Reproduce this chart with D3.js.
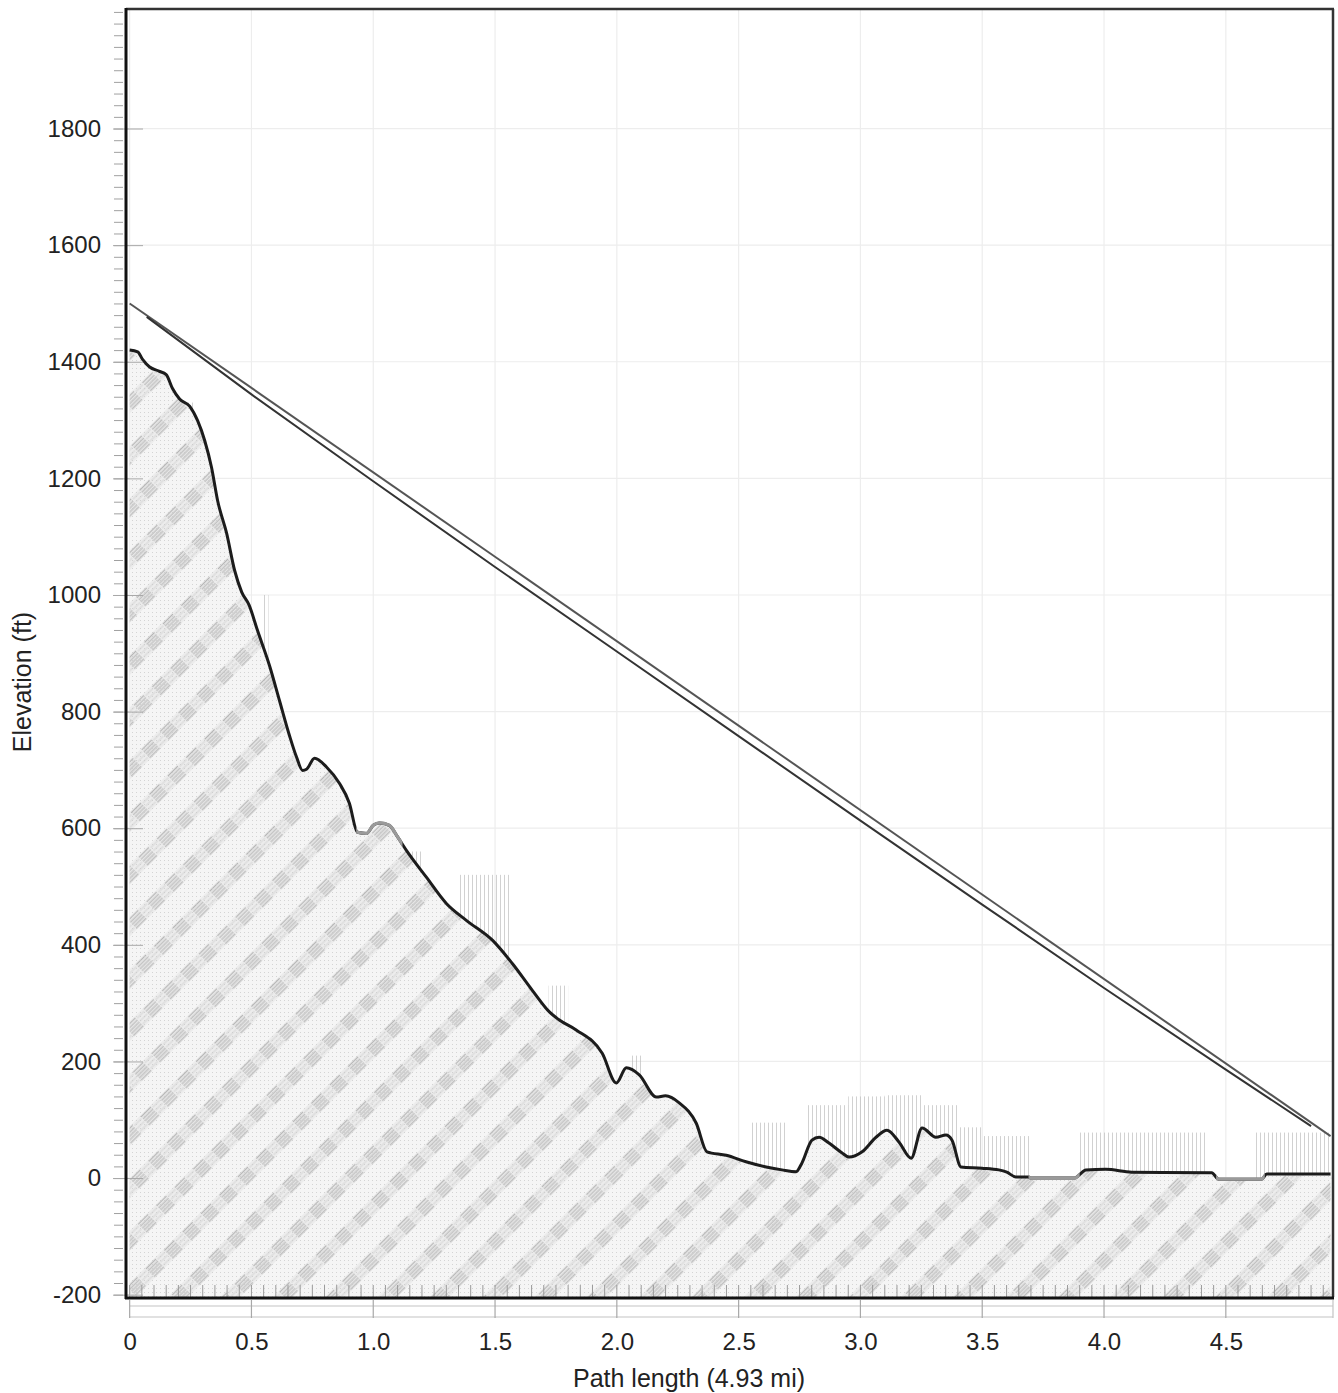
<!DOCTYPE html>
<html><head><meta charset="utf-8">
<script src="https://cdn.jsdelivr.net/npm/d3@7"></script>
<style>
html,body{margin:0;padding:0;background:#fff;}
text{font-family:"Liberation Sans",Arial,sans-serif;fill:#222;}
</style></head>
<body>
<svg id="chart" width="1338" height="1393"></svg>
<script>
// ---------- data ----------
const yTickValues = [-200,0,200,400,600,800,1000,1200,1400,1600,1800];
const yTickLabels = ["-200","0","200","400","600","800","1000","1200","1400","1600","1800"];
const xTickValues = [0,0.5,1.0,1.5,2.0,2.5,3.0,3.5,4.0,4.5];
const xTickLabels = ["0","0.5","1.0","1.5","2.0","2.5","3.0","3.5","4.0","4.5"];
const xTitle = "Path length (4.93 mi)";
const yTitle = "Elevation (ft)";

// terrain profile: [distance mi, elevation ft]
const terrain = [
 [0,1420],[0.033,1417],[0.053,1404],[0.082,1391],[0.12,1384],[0.15,1378],[0.176,1354],
 [0.205,1336],[0.246,1324],[0.279,1299],[0.308,1265],[0.336,1219],[0.361,1162],[0.398,1106],
 [0.431,1042],[0.46,1005],[0.49,983],[0.525,939],[0.574,879],[0.615,819],[0.656,759],
 [0.685,722],[0.71,699],[0.726,701],[0.759,720],[0.808,705],[0.861,677],[0.902,643],
 [0.935,593],[0.972,591],[1.0,605],[1.025,609],[1.066,605],[1.1,585],[1.136,562],
 [1.218,516],[1.3,471],[1.382,442],[1.489,408],[1.571,368],[1.653,322],[1.723,285],
 [1.764,271],[1.833,254],[1.94,214],[1.998,163],[2.039,189],[2.092,177],[2.162,139],
 [2.2,141],[2.256,129],[2.326,94],[2.37,45],[2.449,39],[2.53,28],[2.613,19],[2.678,14],
 [2.736,11],[2.76,26],[2.801,65],[2.83,70],[2.871,60],[2.925,43],[2.953,36],[3.007,45],
 [3.064,70],[3.109,82],[3.158,62],[3.208,34],[3.253,86],[3.31,70],[3.351,74],[3.376,65],
 [3.413,19],[3.499,17],[3.568,14],[3.601,10],[3.638,2],[3.69,2],[3.7,0],[3.88,0],
 [3.897,5],[3.925,14],[4.007,15],[4.114,10],[4.442,9],[4.471,-2],[4.647,-2],[4.668,7],[4.93,7]
];
// distance ranges where the profile line is drawn in grey
const greyRanges = [[0.93,1.12],[3.69,3.9],[4.46,4.66]];

// clutter bands: [start mi, end mi, top ft]
const clutter = [
 [0.24,0.27,1330],[0.55,0.57,1000],[1.12,1.2,560],[1.35,1.56,520],[1.72,1.8,330],
 [2.05,2.1,210],[2.55,2.7,95],[2.78,2.95,125],[2.95,3.1,140],[3.1,3.25,142],
 [3.25,3.4,125],[3.4,3.5,87],[3.5,3.7,72],[3.9,4.42,78],[4.62,4.93,78]
];

// line of sight and lower Fresnel line
const lineOfSight = [[0,1500],[4.93,72]];
const fresnelLine = [
 [0.07,1477],[0.5,1344],[1.0,1195],[1.5,1048],[2.0,903],[2.5,758],
 [3.0,613],[3.5,469],[4.0,326],[4.5,186],[4.85,89]
];

// ---------- layout ----------
const svg = d3.select("#chart");
const L = 126, R = 1333, T = 9, B = 1297;
const x = d3.scaleLinear().domain([-0.015,4.94]).range([L,R]);
const y = d3.scaleLinear().domain([-204,2005]).range([B,T]);

svg.append("rect").attr("width",1338).attr("height",1393).attr("fill","#fff");

const defs = svg.append("defs");
// terrain hatch pattern: diagonal "/" bands of hatched blocks
const p = defs.append("pattern").attr("id","hatch").attr("patternUnits","userSpaceOnUse")
  .attr("width",37).attr("height",26).attr("patternTransform","rotate(45)");
p.append("rect").attr("width",37).attr("height",26).attr("fill","#f5f5f5");
p.append("rect").attr("x",0).attr("y",0).attr("width",14).attr("height",14).attr("fill","#e6e6e6");
for (let i=0;i<5;i++){
  p.append("line").attr("x1",1.5+i*2.8).attr("x2",1.5+i*2.8).attr("y1",0).attr("y2",14)
   .attr("stroke","#b2b2b2").attr("stroke-width",0.9);
}
p.append("rect").attr("x",0).attr("y",14).attr("width",14).attr("height",12).attr("fill","#ececec");
for (let i=0;i<3;i++){
  p.append("line").attr("x1",3+i*4).attr("x2",3+i*4).attr("y1",15).attr("y2",25)
   .attr("stroke","#cfcfcf").attr("stroke-width",0.8);
}
// dotted grid overlay
const dp = defs.append("pattern").attr("id","dots").attr("patternUnits","userSpaceOnUse")
  .attr("width",4).attr("height",4);
dp.append("rect").attr("width",1).attr("height",1).attr("fill","#c6c6c6");
// clutter vertical lines
const cp = defs.append("pattern").attr("id","clut").attr("patternUnits","userSpaceOnUse")
  .attr("width",4).attr("height",4);
cp.append("rect").attr("width",1).attr("height",4).attr("fill","#bdbdbd");

defs.append("clipPath").attr("id","plotclip").append("rect")
  .attr("x",L).attr("y",T).attr("width",R-L).attr("height",B-T);
const gc = defs.append("clipPath").attr("id","greyclip");
greyRanges.forEach(r=>gc.append("rect").attr("x",x(r[0])).attr("y",T)
  .attr("width",x(r[1])-x(r[0])).attr("height",B-T));

// gridlines
const grid = svg.append("g").attr("stroke","#ededed").attr("stroke-width",1.2);
yTickValues.forEach(v=>grid.append("line").attr("x1",L).attr("x2",R).attr("y1",y(v)).attr("y2",y(v)));
xTickValues.forEach(v=>grid.append("line").attr("x1",x(v)).attr("x2",x(v)).attr("y1",T).attr("y2",B));

const plot = svg.append("g").attr("clip-path","url(#plotclip)");

// clutter
plot.selectAll("rect.clut").data(clutter).join("rect").attr("class","clut")
  .attr("x",d=>x(d[0])).attr("width",d=>x(d[1])-x(d[0]))
  .attr("y",d=>y(d[2])).attr("height",d=>y(-204)-y(d[2]))
  .attr("fill","url(#clut)").attr("opacity",0.7);

// terrain area
const area = d3.area().x(d=>x(d[0])).y0(y(-204)).y1(d=>y(d[1])).curve(d3.curveMonotoneX);
plot.append("path").datum(terrain).attr("d",area).attr("fill","url(#hatch)");
plot.append("path").datum(terrain).attr("d",area).attr("fill","url(#dots)").attr("opacity",0.7);

// minor x ticks inside bottom
const minorX = d3.range(0,4.93,0.05);
plot.append("g").selectAll("line").data(minorX).join("line")
  .attr("x1",d=>x(d)).attr("x2",d=>x(d)).attr("y1",B-12).attr("y2",B)
  .attr("stroke","#9a9a9a").attr("stroke-width",1);

// terrain line
const line = d3.line().x(d=>x(d[0])).y(d=>y(d[1])).curve(d3.curveMonotoneX);
plot.append("path").datum(terrain).attr("d",line).attr("fill","none")
  .attr("stroke","#1c1c1c").attr("stroke-width",3).attr("stroke-linejoin","round");
plot.append("path").datum(terrain).attr("d",line).attr("fill","none")
  .attr("clip-path","url(#greyclip)")
  .attr("stroke","#9a9a9a").attr("stroke-width",3.2);

// line of sight and Fresnel line
const sl = d3.line().x(d=>x(d[0])).y(d=>y(d[1]));
plot.append("path").datum(lineOfSight).attr("d",sl).attr("fill","none")
  .attr("stroke","#555").attr("stroke-width",2);
plot.append("path").datum(fresnelLine).attr("d",sl).attr("fill","none")
  .attr("stroke","#333").attr("stroke-width",2);

// frame
svg.append("line").attr("x1",L).attr("x2",R+1).attr("y1",T).attr("y2",T).attr("stroke","#333").attr("stroke-width",2.5);
svg.append("line").attr("x1",R).attr("x2",R).attr("y1",T).attr("y2",B).attr("stroke","#333").attr("stroke-width",2.5);

// y axis: minor ticks, major ticks, labels
const yMinor = d3.axisLeft(y).tickValues(d3.range(-200,2001,20)).tickSize(9).tickFormat("");
const gMin = svg.append("g").attr("transform",`translate(${L-3},0)`).call(yMinor);
gMin.select(".domain").remove();
gMin.selectAll("line").attr("stroke","#a0a0a0");
const yMajor = d3.axisLeft(y).tickValues(yTickValues).tickSize(30).tickFormat("");
const gMaj = svg.append("g").attr("transform",`translate(${L+17},0)`).call(yMajor);
gMaj.select(".domain").remove();
gMaj.selectAll("line").attr("stroke","#a8a8a8");
const yLab = d3.axisLeft(y).tickValues(yTickValues).tickSize(0).tickPadding(25)
  .tickFormat((d,i)=>yTickLabels[i]);
const gLab = svg.append("g").attr("transform",`translate(${L},0)`).call(yLab);
gLab.select(".domain").remove();
gLab.selectAll("text").attr("font-size",24).attr("font-family","Liberation Sans, Arial").attr("fill","#222");

// secondary strip under plot
const strip = svg.append("g").attr("stroke","#c4c4c4").attr("stroke-width",1.2);
strip.append("line").attr("x1",x(0)).attr("x2",R).attr("y1",1306).attr("y2",1306);
strip.append("line").attr("x1",x(0)).attr("x2",R).attr("y1",1317).attr("y2",1317);
xTickValues.forEach(v=>strip.append("line").attr("x1",x(v)).attr("x2",x(v)).attr("y1",1300).attr("y2",1318).attr("stroke","#a8a8a8"));
strip.append("line").attr("x1",R).attr("x2",R).attr("y1",1300).attr("y2",1318);

// x axis labels
const xAx = d3.axisBottom(x).tickValues(xTickValues).tickSize(0).tickPadding(36)
  .tickFormat((d,i)=>xTickLabels[i]);
const gx = svg.append("g").attr("transform",`translate(0,${B})`).call(xAx);
gx.select(".domain").remove();
gx.selectAll("text").attr("font-size",24).attr("font-family","Liberation Sans, Arial").attr("fill","#222");

// axis lines (thick black)
svg.append("line").attr("x1",L).attr("x2",L).attr("y1",T-1).attr("y2",B+2).attr("stroke","#111").attr("stroke-width",3);
svg.append("line").attr("x1",L-1).attr("x2",R+1).attr("y1",B+1).attr("y2",B+1).attr("stroke","#111").attr("stroke-width",3);

// titles
svg.append("text").attr("x",689).attr("y",1387).attr("text-anchor","middle")
  .attr("font-size",25).text(xTitle);
svg.append("text").attr("transform","translate(31,682) rotate(-90)").attr("text-anchor","middle")
  .attr("font-size",25).text(yTitle);
</script>
</body></html>
